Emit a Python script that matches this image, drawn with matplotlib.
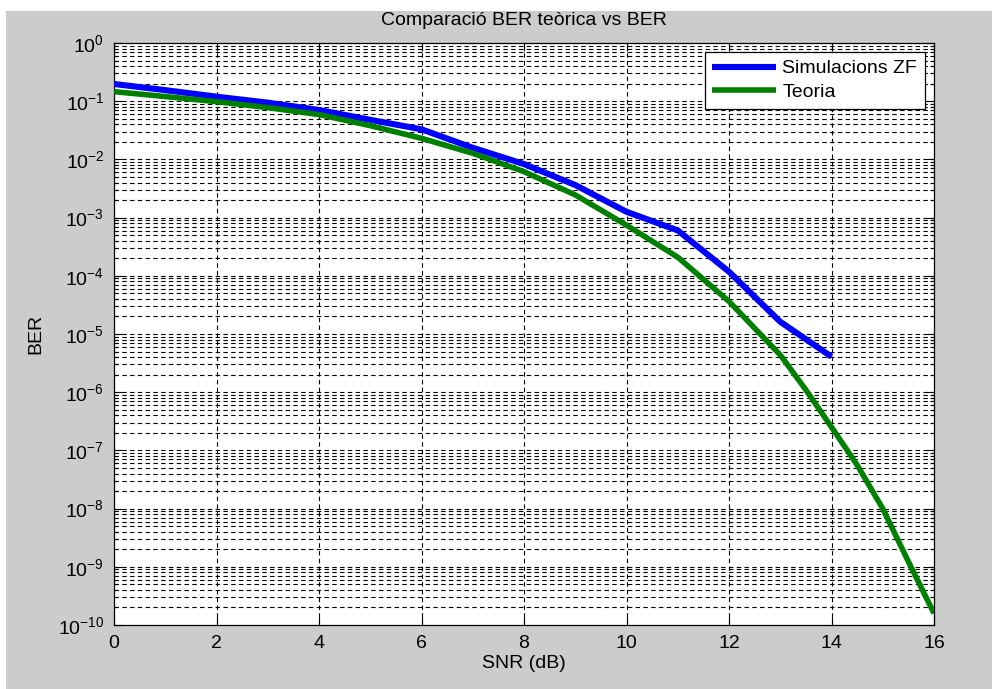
import numpy as np
import matplotlib
matplotlib.use("Agg")
import matplotlib.pyplot as plt
from matplotlib.patches import Rectangle
from matplotlib.ticker import LogLocator, FixedLocator, NullFormatter

plt.rcParams['font.family'] = ['Liberation Sans', 'DejaVu Sans']
plt.rcParams['mathtext.fontset'] = 'custom'
plt.rcParams['mathtext.rm'] = 'Liberation Sans'
plt.rcParams['mathtext.it'] = 'Liberation Sans'
plt.rcParams['mathtext.bf'] = 'Liberation Sans'
plt.rcParams['mathtext.default'] = 'regular'

# Simulated BER with zero-forcing equalisation (SNR in dB, log10 BER)
snr_sim = [0, 1, 2, 3, 4, 5, 6, 7, 8, 9, 10, 11, 12, 13, 14]
log_ber_sim = [-0.704, -0.81, -0.922, -1.025, -1.151, -1.32, -1.483, -1.80,
               -2.08, -2.44, -2.90, -3.22, -3.93, -4.79, -5.39]

# Theoretical BER curve
snr_theory = [0, 1, 2, 3, 4, 5, 6, 7, 8, 9, 10, 11, 12, 13, 13.5, 14, 14.5,
              15, 15.5, 16]
log_ber_theory = [-0.836, -0.92, -1.008, -1.11, -1.23, -1.42, -1.638, -1.895,
                  -2.21, -2.61, -3.13, -3.68, -4.44, -5.36, -5.96, -6.60,
                  -7.25, -8.0, -8.91, -9.80]

ber_sim = 10.0 ** np.array(log_ber_sim)
ber_theory = 10.0 ** np.array(log_ber_theory)

FS = 14
W, H = 992, 689
fig = plt.figure(figsize=(W / 100, H / 100), dpi=100, facecolor='white')
fig.patches.append(Rectangle((6 / W, 0), 1 - 6 / W, 1 - 11 / H,
                             transform=fig.transFigure, facecolor='#cccccc',
                             edgecolor='none', zorder=-10))

ax = fig.add_axes([114 / W, 1 - 625 / H, 820 / W, 582 / H])
ax.set_facecolor('white')

ax.semilogy(snr_sim, ber_sim, color='#0000ff', lw=4.4, label='Simulacions ZF',
            solid_capstyle='butt', zorder=3)
ax.semilogy(snr_theory, ber_theory, color='#008000', lw=4.0, label='Teoria',
            solid_capstyle='butt', zorder=3)

ax.set_xlim(0, 16)
ax.set_ylim(1e-10, 1e0)
ax.xaxis.set_major_locator(FixedLocator(np.arange(0, 17, 2)))
ax.yaxis.set_major_locator(LogLocator(base=10, numticks=20))
ax.yaxis.set_minor_locator(LogLocator(base=10, subs=np.arange(2, 10), numticks=20))
ax.yaxis.set_minor_formatter(NullFormatter())

dash = (0, (4, 3))
for xv in np.arange(2, 16, 2):
    ax.axvline(xv, color='black', lw=0.8, ls=dash, zorder=1)
for d in range(-10, 0):
    for m in range(1, 10):
        yv = m * 10.0 ** d
        if 1e-10 < yv < 1:
            ax.axhline(yv, color='black', lw=0.8, ls=dash, zorder=1)

ax.tick_params(which='both', direction='in', top=True, right=True,
               labelsize=FS, colors='black', width=0.8)
ax.tick_params(which='major', length=6)
ax.tick_params(which='minor', length=3)
ax.tick_params(axis='x', pad=7)
ax.tick_params(axis='y', pad=7)
for s in ax.spines.values():
    s.set_linewidth(0.9)

ax.set_title('Comparació BER teòrica vs BER', fontsize=FS, pad=13)
ax.set_xlabel('SNR (dB)', fontsize=FS, labelpad=2)
ax.set_ylabel('BER', fontsize=FS, labelpad=10)

leg = ax.legend(loc='upper right', bbox_to_anchor=(0.989, 0.9845),
                borderaxespad=0, fancybox=False, fontsize=FS,
                handlelength=3.25, handletextpad=0.35, labelspacing=0.3,
                borderpad=0.4, framealpha=1)
leg.get_frame().set_edgecolor('black')
leg.get_frame().set_linewidth(0.9)

fig.savefig('out.png', dpi=100, facecolor=fig.get_facecolor())
